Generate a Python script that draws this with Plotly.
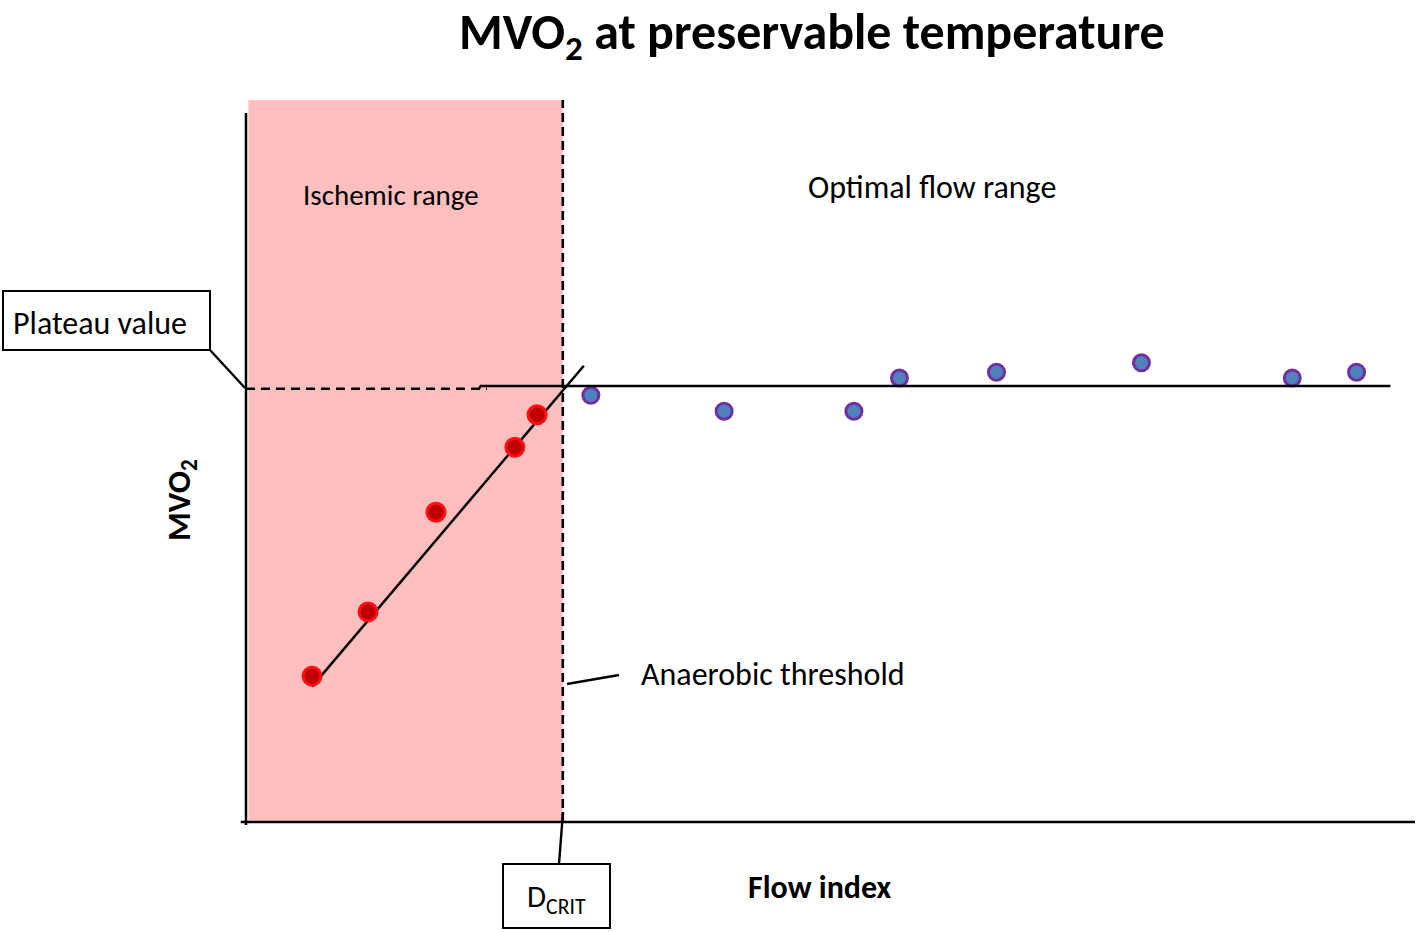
import plotly.graph_objects as go

# ---- data (flow index 0-100, MVO2 0-100 arbitrary units) ----
red_x = [5.65, 10.44, 16.25, 23.0, 24.9]
red_y = [20.2, 29.1, 42.9, 51.9, 56.4]
blue_x = [29.5, 40.9, 52.0, 55.9, 64.2, 76.6, 89.5, 95.0]
blue_y = [59.1, 56.9, 56.9, 61.5, 62.3, 63.6, 61.5, 62.3]
fit_x = [5.65, 28.9]
fit_y = [18.75, 63.2]
plateau_value = 60.4
plateau_dashed = 60.0
plateau_solid_x = [20.6, 97.9]
d_crit = 27.1

title_text = "MVO<sub>2</sub> at preservable temperature"
x_label = "Flow index"
y_label = "MVO<sub>2</sub>"

W, H = 1418, 932
FONT = "Carlito, Lato, sans-serif"

# pixel mapping for layout placement (x=0 at 246px, x=100 at 1415px; y=0 at 822px, y=100 at 100px)
X0, X100 = 246, 1415
Y0, Y100 = 822, 100
sx = (X100 - X0) / 100.0
sy = (Y0 - Y100) / 100.0
xr = [(0 - X0) / sx, (W - X0) / sx]
yr = [(Y0 - H) / sy, Y0 / sy]

def px(x, y):
    return x / W, 1 - y / H

fig = go.Figure()

shapes = []
# ischemic range shading
shapes.append(dict(type="rect", xref="x", yref="y", x0=0.2, x1=d_crit, y0=0, y1=100,
                   fillcolor="#FFBFBF", line=dict(width=0), layer="below"))
# axes
shapes.append(dict(type="line", xref="x", yref="y", x0=0, x1=0, y0=-0.4, y1=98.2,
                   line=dict(color="black", width=2.5)))
shapes.append(dict(type="line", xref="x", yref="y", x0=-0.45, x1=100, y0=0, y1=0,
                   line=dict(color="black", width=2.5)))
# D_crit dashed line
shapes.append(dict(type="line", xref="x", yref="y", x0=d_crit, x1=d_crit, y0=0, y1=100,
                   line=dict(color="black", width=2.6, dash="9px,5px")))
# plateau dashed and solid lines
shapes.append(dict(type="line", xref="x", yref="y", x0=0, x1=plateau_solid_x[0], y0=plateau_dashed,
                   y1=plateau_dashed, line=dict(color="black", width=2.6, dash="9px,6px")))
shapes.append(dict(type="line", xref="x", yref="y", x0=plateau_solid_x[0] - 0.6, x1=plateau_solid_x[0] - 0.6,
                   y0=plateau_dashed, y1=plateau_value, line=dict(color="black", width=2)))
shapes.append(dict(type="line", xref="x", yref="y", x0=plateau_solid_x[0] - 0.6, x1=plateau_solid_x[1],
                   y0=plateau_value, y1=plateau_value, line=dict(color="black", width=2.5)))

# label boxes and connectors (pixel placed)
def prect(x0, y0, x1, y1):
    a, b = px(x0, y0)
    c, d = px(x1, y1)
    return dict(type="rect", xref="paper", yref="paper", x0=a, y0=d, x1=c, y1=b,
                line=dict(color="black", width=2), fillcolor="white")

def pline(x0, y0, x1, y1):
    a, b = px(x0, y0)
    c, d = px(x1, y1)
    return dict(type="line", xref="paper", yref="paper", x0=a, y0=b, x1=c, y1=d,
                line=dict(color="black", width=2.4))

shapes.append(prect(3, 291, 210, 350))
shapes.append(pline(210, 350, 245, 388))
shapes.append(prect(503, 864, 610, 928))
shapes.append(pline(563, 812, 559, 864))
shapes.append(pline(567, 684, 619, 675))

# fit line
fig.add_trace(go.Scatter(x=fit_x, y=fit_y, mode="lines", line=dict(color="black", width=2.5),
                         hoverinfo="skip", showlegend=False))
# ischemic points
fig.add_trace(go.Scatter(x=red_x, y=red_y, mode="markers",
                         marker=dict(size=18, color="#C00000", line=dict(color="#FF1010", width=3)),
                         showlegend=False))
# optimal flow points
fig.add_trace(go.Scatter(x=blue_x, y=blue_y, mode="markers",
                         marker=dict(size=16, color="#4F81BD", line=dict(color="#7030A0", width=3)),
                         showlegend=False))

annotations = []
def ptext(x, y, text, size, bold=False, xanchor="center", angle=0, yanchor="middle", pad=1):
    a, b = px(x, y)
    t = "<b>%s</b>" % text if bold else text
    annotations.append(dict(xref="paper", yref="paper", x=a, y=b, text=t, showarrow=False,
                            xanchor=xanchor, yanchor=yanchor, textangle=angle, borderpad=pad,
                            font=dict(family=FONT, size=size, color="black")))

ptext(812, 0, title_text, 50, bold=True, yanchor="top", pad=0)
ptext(391, 195, "Ischemic range", 29)
ptext(932, 188, "Optimal flow range", 32)
ptext(100, 324, "Plateau value", 32)
ptext(639, 674, "Anaerobic threshold", 32, xanchor="left")
ptext(556, 898, "D<sub>CRIT</sub>", 31)
ptext(820, 887, x_label, 32, bold=True)
ptext(181, 500, y_label, 33, bold=True, angle=-90)

fig.update_layout(
    width=W, height=H,
    margin=dict(l=0, r=0, t=0, b=0),
    paper_bgcolor="white", plot_bgcolor="white",
    xaxis=dict(range=xr, visible=False, fixedrange=True),
    yaxis=dict(range=yr, visible=False, fixedrange=True),
    shapes=shapes, annotations=annotations,
)

fig.write_html("out.html", config={"displayModeBar": False},
               post_script="document.body.style.margin='0';document.body.style.overflow='hidden';")
